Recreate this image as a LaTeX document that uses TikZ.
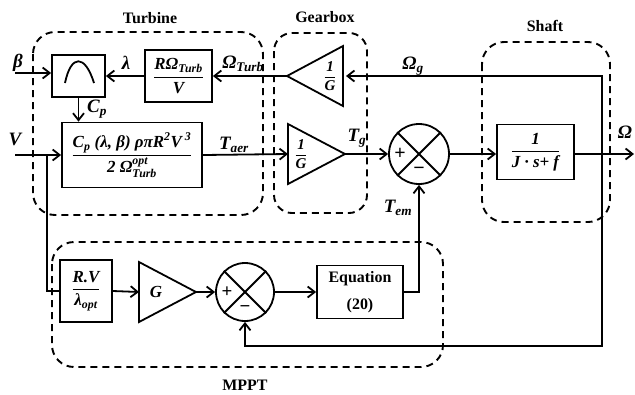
\documentclass[tikz,border=0pt]{standalone}
\usepackage{fontspec}
\usepackage{amsmath}
\setmainfont{Liberation Serif}
\usetikzlibrary{arrows.meta,calc}
\newcommand\lbl{\fontsize{19}{22}\selectfont\bfseries\itshape}
\newcommand\blkfont{\fontsize{17}{20}\selectfont\bfseries\itshape}
\newcommand\smallfont{\fontsize{15}{17}\selectfont\bfseries\itshape}
\tikzset{
  ln/.style={line width=1.8bp},
  arr/.style={line width=1.8bp,-{Straight Barb[length=7bp,width=11bp,line width=1.8bp]}},
  grp/.style={line width=1.9bp,dash pattern=on 7bp off 5bp,rounded corners=22bp},
  blk/.style={draw,line width=1.8bp,inner sep=0pt,font=\blkfont},
  sumc/.style={draw,circle,line width=1.8bp,minimum size=#1,inner sep=0pt},
  ttl/.style={font=\fontsize{16}{18}\selectfont\bfseries,inner sep=0pt},
  lab/.style={font=\lbl,inner sep=0pt}
}
\begin{document}
\begin{tikzpicture}[x=1bp,y=-1bp]
\useasboundingbox (0,0) rectangle (635,394);
% group frames
\draw[grp] (33,32) rectangle (263,215);
\draw[grp,rounded corners=18bp] (274,33) rectangle (367,213);
\draw[grp] (482,42) rectangle (610,222);
\draw[grp] (52,242) rectangle (443,367);
\node[ttl] (tT) at (150,18) {Turbine};
\node[ttl] (tG) at (325,17) {Gearbox};
\node[ttl] (tS) at (545,26) {Shaft};
\node[ttl] (tM) at (245,385) {MPPT};
% blocks
\node[blk,minimum width=53bp,minimum height=42bp] (cp) at (78.5,76) {};
\draw[ln] (65,83) .. controls (71,54) and (85,54) .. (94,83);
\node[blk,minimum width=67bp,minimum height=52bp] (rob) at (178.5,76)
  {$\dfrac{\text{RΩ}_{\text{Turb}}}{\text{V}}$};
\node[blk,minimum width=140bp,minimum height=65bp] (big) at (132,155)
  {$\dfrac{\text{C}_{\text{p}}\text{ (λ, β) ρπR}^{\text{2}}\text{V}^{\text{ 3}}}{\text{2 Ω}^{\text{opt}}_{\text{Turb}}}$};
\node[blk,minimum width=77bp,minimum height=55bp] (shb) at (535.5,152)
  {$\dfrac{\text{1}}{\text{J · s+ f}}$};
\node[blk,minimum width=52bp,minimum height=62bp] (rv) at (86,291)
  {$\dfrac{\text{R.V}}{\text{λ}_{\text{opt}}}$};
\node[blk,minimum width=86bp,minimum height=53bp,align=center,
  font=\fontsize{16}{27}\selectfont\bfseries] (eq) at (360,292) {Equation\\(20)};
% triangles
\coordinate (t1tip) at (287,76);
\coordinate (t1base) at (343,76);
\draw[ln,line join=miter] (t1tip) -- (343,46) -- (343,106) -- cycle;
\node[font=\smallfont,inner sep=0pt] (t1txt) at (330,76) {$\dfrac{\text{1}}{\text{G}}$};
\coordinate (t2base) at (288,154);
\coordinate (t2tip) at (345,154);
\draw[ln,line join=miter] (t2tip) -- (288,124) -- (288,184) -- cycle;
\node[font=\smallfont,inner sep=0pt] (t2txt) at (301,154) {$\dfrac{\text{1}}{\text{G}}$};
\coordinate (gbase) at (139,292);
\coordinate (gtip) at (196,292);
\draw[ln,line join=miter] (gtip) -- (139,262) -- (139,322) -- cycle;
\node[font=\blkfont,inner sep=0pt] (gtxt) at (156,292) {G};
% summing junctions
\node[sumc=60bp] (s1) at (419,154) {};
\draw[ln] (s1.north west) -- (s1.south east) (s1.north east) -- (s1.south west);
\node[font=\fontsize{20}{20}\selectfont\bfseries,inner sep=0pt] (s1p) at ($(s1.center)+(-19,0)$) {+};
\node[font=\fontsize{20}{20}\selectfont\bfseries,inner sep=0pt] (s1m) at ($(s1.center)+(0,17)$) {−};
\node[sumc=58bp] (s2) at (245,292) {};
\draw[ln] (s2.north west) -- (s2.south east) (s2.north east) -- (s2.south west);
\node[font=\fontsize{19}{19}\selectfont\bfseries,inner sep=0pt] (s2p) at ($(s2.center)+(-18,0)$) {+};
\node[font=\fontsize{19}{19}\selectfont\bfseries,inner sep=0pt] (s2m) at ($(s2.center)+(0,17)$) {−};
% connectors
\coordinate (bin) at (15,73);
\draw[arr] (bin) -- (bin -| cp.west);
\draw[arr] (rob.west) -- (cp.east);
\draw[arr] (t1tip) -- (rob.east);
\draw[arr] (cp.south) -- (cp.south |- big.north);
\coordinate (vin) at (15,155);
\draw[arr] (vin) -- (big.west);
\coordinate (vbr) at (47,155);
\draw[ln] (vbr) |- (rv.west);
\draw[arr] (big.east) -- (t2base);
\draw[arr] (t2tip) -- (s1.west);
\draw[arr] (s1.east) -- (s1.east -| shb.west);
\coordinate (om) at (634,154);
\draw[arr] (s1.east -| shb.east) -- (om);
\coordinate (fb) at (602,154);
\coordinate (fbc) at (602,346);
\draw[arr] (fb) |- ($(t1base)+(3,0)$);
\draw[arr] (fb) -- (fbc) -| (s2.south);
\draw[arr] (rv.east) -- (gbase);
\draw[arr] (gtip) -- (s2.west);
\draw[arr] (s2.east) -- (eq.west);
\draw[arr] (eq.east) -| (s1.south);
% labels
\node[lab] (lb) at (18,63) {β};
\node[lab] (ll) at (126,63) {λ};
\node[lab] (lot) at (243,64) {Ω$_{\text{Turb}}$};
\node[lab] (lcp) at (97,109) {C$_{\text{p}}$};
\node[lab] (lv) at (15,139) {V};
\node[lab] (lta) at (234,145) {T$_{\text{aer}}$};
\node[lab] (ltg) at (357,138) {T$_{\text{g}}$};
\node[lab] (lte) at (398,208) {T$_{\text{em}}$};
\node[lab] (log) at (413,66) {Ω$_{\text{g}}$};
\node[lab] (lo) at (625,132) {Ω};
\end{tikzpicture}
\end{document}
